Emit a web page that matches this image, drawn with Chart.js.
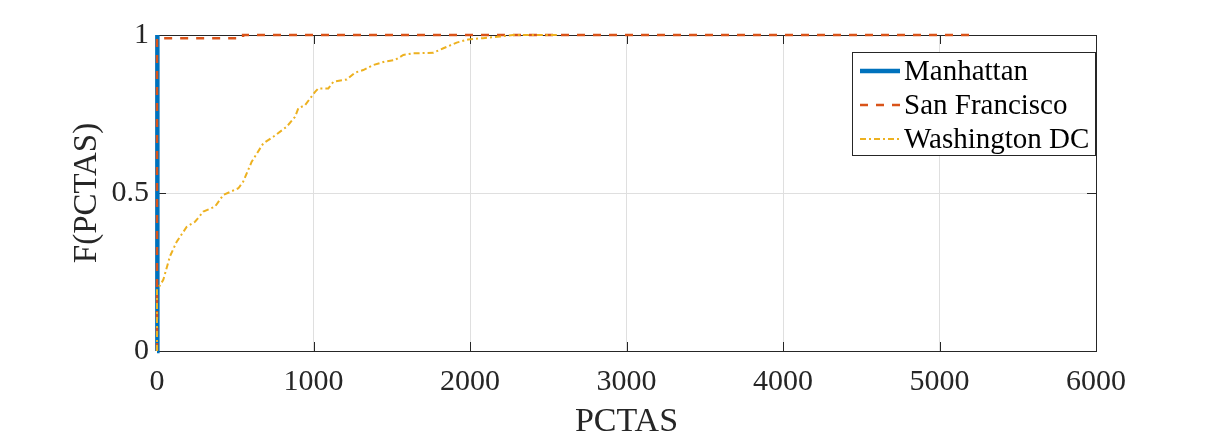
<!DOCTYPE html>
<html>
<head>
<meta charset="utf-8">
<title>F(PCTAS)</title>
<script src="https://cdn.jsdelivr.net/npm/chart.js@4.4.1/dist/chart.umd.min.js"></script>
<style>
    html, body { margin: 0; padding: 0; background: #fff; }
    #wrap { width: 1212px; height: 439px; }
</style>
</head>
<body>
<div id="wrap"><canvas id="cdfChart" width="1212" height="439"></canvas></div>
<script>
// Series values (PCTAS on x, cumulative fraction on y)
const manhattanX = [0, 0, 2, 5];
const manhattanY = [0, 0.7, 0.97, 1];

const sanFranciscoX = [0, 0, 550, 550, 5195];
const sanFranciscoY = [0, 0.99, 0.99, 1, 1];

const washingtonX = [0, 0, 40, 83, 126, 190, 243, 296, 371, 424,
    520, 551, 605, 679, 743, 829, 882, 903, 946, 1010,
    1031, 1095, 1127, 1212, 1265, 1318, 1382, 1457, 1521, 1574,
    1638, 1766, 1830, 1915, 1989, 2083, 2192, 2275, 2570];
const washingtonY = [0, 0.193, 0.225, 0.30, 0.346, 0.393, 0.409, 0.441, 0.457, 0.494,
    0.515, 0.536, 0.599, 0.657, 0.678, 0.71, 0.741, 0.768, 0.778, 0.82,
    0.831, 0.831, 0.852, 0.859, 0.881, 0.889, 0.905, 0.916, 0.921, 0.937,
    0.942, 0.944, 0.958, 0.976, 0.986, 0.99, 0.995, 1.0, 1.0];

const seriesLabels = ['Manhattan', 'San Francisco', 'Washington DC'];
const xTicks = [0, 1000, 2000, 3000, 4000, 5000, 6000];
const yTicks = [0, 0.5, 1];

const FONT = "'Liberation Serif', 'Times New Roman', serif";
const TEXT = '#262626';

function toPoints(xs, ys) {
    return xs.map((x, i) => ({ x: x, y: ys[i] }));
}

/**
 * Axes box, inward tick marks and the in-plot legend (MATLAB look).
 */
const matlabAxes = {
    id: 'matlabAxes',
    beforeDatasetsDraw(chart) {
        const { ctx, chartArea: a, scales } = chart;
        const len = 9;
        ctx.save();
        ctx.strokeStyle = TEXT;
        ctx.lineWidth = 1;
        ctx.beginPath();
        xTicks.forEach(v => {
            const px = Math.round(scales.x.getPixelForValue(v)) + 0.5;
            ctx.moveTo(px, a.bottom); ctx.lineTo(px, a.bottom - len);
            ctx.moveTo(px, a.top); ctx.lineTo(px, a.top + len);
        });
        yTicks.forEach(v => {
            const py = Math.round(scales.y.getPixelForValue(v)) + 0.5;
            ctx.moveTo(a.left, py); ctx.lineTo(a.left + len, py);
            ctx.moveTo(a.right, py); ctx.lineTo(a.right - len, py);
        });
        ctx.stroke();
        ctx.strokeRect(Math.round(a.left) + 0.5, Math.round(a.top) + 0.5,
            Math.round(a.right - a.left), Math.round(a.bottom - a.top));
        ctx.restore();
    },
    afterDraw(chart) {
        const { ctx, chartArea: a } = chart;
        const w = 243, h = 103;
        const left = a.right - w - 1, top = a.top + 17;
        ctx.save();
        ctx.fillStyle = '#fff';
        ctx.fillRect(left, top, w, h);
        ctx.strokeStyle = TEXT;
        ctx.lineWidth = 1;
        ctx.strokeRect(Math.round(left) + 0.5, Math.round(top) + 0.5, w, h);
        ctx.font = '29px ' + FONT;
        ctx.textBaseline = 'middle';
        ctx.fillStyle = '#000';
        chart.data.datasets.forEach((ds, i) => {
            const cy = top + 19 + i * 34;
            ctx.beginPath();
            ctx.strokeStyle = ds.borderColor;
            ctx.lineWidth = ds.borderWidth;
            ctx.setLineDash(ds.borderDash || []);
            ctx.moveTo(left + 8, cy);
            ctx.lineTo(left + 48, cy);
            ctx.stroke();
            ctx.setLineDash([]);
            ctx.fillText(ds.label, left + 52, cy + 1);
        });
        ctx.restore();
    }
};

new Chart(document.getElementById('cdfChart'), {
    type: 'scatter',
    data: {
        datasets: [{
            label: seriesLabels[0],
            data: toPoints(manhattanX, manhattanY),
            borderColor: '#0072BD',
            borderWidth: 4.5,
            order: 2
        }, {
            label: seriesLabels[1],
            data: toPoints(sanFranciscoX, sanFranciscoY),
            borderColor: '#D95319',
            borderWidth: 2.5,
            borderDash: [8, 8],
            order: 1
        }, {
            label: seriesLabels[2],
            data: toPoints(washingtonX, washingtonY),
            borderColor: '#EDB120',
            borderWidth: 2,
            borderDash: [6, 3, 2, 3],
            order: 0
        }].map(ds => Object.assign(ds, {
            showLine: true,
            pointRadius: 0,
            pointHoverRadius: 0,
            fill: false,
            tension: 0,
            clip: 6
        }))
    },
    options: {
        responsive: false,
        animation: false,
        devicePixelRatio: 1,
        layout: { padding: { top: 35, right: 116, bottom: 0, left: 0 } },
        plugins: {
            legend: { display: false },
            tooltip: { enabled: false }
        },
        scales: {
            x: {
                type: 'linear',
                min: 0,
                max: 6000,
                afterBuildTicks: scale => { scale.ticks = xTicks.map(v => ({ value: v })); },
                afterFit: scale => { scale.height = 88; },
                ticks: {
                    color: TEXT,
                    font: { family: FONT, size: 30 },
                    padding: 13,
                    maxRotation: 0,
                    autoSkip: false,
                    callback: v => String(v)
                },
                grid: { color: '#dfdfdf', drawTicks: false },
                border: { display: false },
                title: {
                    display: true,
                    text: 'PCTAS',
                    color: TEXT,
                    font: { family: FONT, size: 34, lineHeight: 1.0 },
                    padding: { top: 0, bottom: 0 }
                }
            },
            y: {
                type: 'linear',
                min: 0,
                max: 1,
                afterBuildTicks: scale => { scale.ticks = yTicks.map(v => ({ value: v })); },
                afterFit: scale => { scale.width = 157; },
                ticks: {
                    color: TEXT,
                    font: { family: FONT, size: 30 },
                    padding: 8,
                    callback: v => String(v)
                },
                grid: { color: '#dfdfdf', drawTicks: false },
                border: { display: false },
                title: {
                    display: true,
                    text: 'F(PCTAS)',
                    color: TEXT,
                    font: { family: FONT, size: 33, lineHeight: 1.2 },
                    padding: { top: 68, bottom: 0 }
                }
            }
        }
    },
    plugins: [matlabAxes]
});
</script>
</body>
</html>
